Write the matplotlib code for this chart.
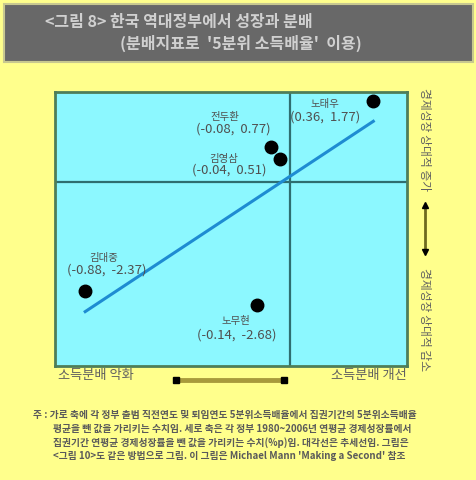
import numpy as np
import matplotlib
matplotlib.use("Agg")
import matplotlib.pyplot as plt
from matplotlib.patches import Rectangle

plt.rcParams['font.family'] = ['Noto Sans CJK KR', 'DejaVu Sans']

# ---- data ----
names = ["노태우", "전두환", "김영삼", "김대중", "노무현"]
dist_x = [0.36, -0.08, -0.04, -0.88, -0.14]
growth_y = [1.77, 0.77, 0.51, -2.37, -2.68]
label_text = ["(0.36,  1.77)", "(-0.08,  0.77)", "(-0.04,  0.51)", "(-0.88,  -2.37)", "(-0.14,  -2.68)"]
title1 = "<그림 8> 한국 역대정부에서 성장과 분배"
title2 = "(분배지표로  '5분위 소득배율'  이용)"
x_left_label = "소득분배 악화"
x_right_label = "소득분배 개선"
y_top_label = "경제성장 상대적 증가"
y_bottom_label = "경제성장 상대적 감소"
notes = [
    "주 : 가로 축에 각 정부 출범 직전연도 및 퇴임연도 5분위소득배율에서 집권기간의 5분위소득배율",
    "평균을 뺀 값을 가리키는 수치임. 세로 축은 각 정부 1980~2006년 연평균 경제성장률에서",
    "집권기간 연평균 경제성장률을 뺀 값을 가리키는 수치(%p)임. 대각선은 추세선임. 그림은",
    "<그림 10>도 같은 방법으로 그림. 이 그림은 Michael Mann 'Making a Second' 참조",
]

W, H = 477, 480
fig = plt.figure(figsize=(W / 100, H / 100), dpi=100)
fig.patch.set_facecolor('#FFFF8C')

def fx(x):
    return x / W

def fy(y):
    return 1 - y / H

# title box
fig.patches.append(Rectangle((fx(4), fy(62)), fx(469), 58 / H, transform=fig.transFigure,
                             facecolor='#686868', edgecolor='#C8C890', lw=1.5, zorder=0))
fig.text(fx(45), fy(22), title1, color='#D0D0D0', fontsize=11.5, fontweight='bold',
         ha='left', va='center')
fig.text(fx(120), fy(43), title2, color='#D0D0D0', fontsize=11.5, fontweight='bold',
         ha='left', va='center')

# plot area
ax = fig.add_axes([fx(55), fy(366), fx(407 - 55), (366 - 92) / H])
ax.set_facecolor('#8CF8FF')
for s in ax.spines.values():
    s.set_color('#4E7E58')
    s.set_linewidth(2)
ax.set_xlim(-1.01, 0.505)
ax.set_ylim(-4.0, 1.96)
ax.set_xticks([])
ax.set_yticks([])
ax.axvline(0, color='#2E6E70', lw=1.6, zorder=1)
ax.axhline(0, color='#2E6E70', lw=1.6, zorder=1)

# trend line
xa = np.array(dist_x)
ya = np.array(growth_y)
k, b = np.polyfit(xa, ya, 1)
xs = np.array([xa.min(), xa.max()])
ax.plot(xs, k * xs + b, color='#1E8CD2', lw=2.2, zorder=2)

ax.plot(dist_x, growth_y, 'o', color='black', markersize=9, zorder=3)

# label offsets in pixels (dx, dy with y downward) for name and coordinates
name_off = [(-48, 3), (-46, -30), (-57, 0), (19, -33), (-21, 16)]
coord_off = [(-48, 16), (-38, -18), (-51, 11), (22, -21), (-20, 30)]
pt = 72 / 100
for n, t, x, y, (ndx, ndy), (cdx, cdy) in zip(names, label_text, dist_x, growth_y, name_off, coord_off):
    ax.annotate(n, (x, y), xytext=(ndx * pt, -ndy * pt), textcoords='offset points',
                ha='center', va='center', fontsize=7.5, color='#505050', zorder=4)
    ax.annotate(t, (x, y), xytext=(cdx * pt, -cdy * pt), textcoords='offset points',
                ha='center', va='center', fontsize=9.5, color='#505050', zorder=4)

# bottom axis labels and arrow
fig.text(fx(58), fy(376), x_left_label, fontsize=9.5, color='#606060', ha='left', va='center')
fig.text(fx(407), fy(376), x_right_label, fontsize=9.5, color='#606060', ha='right', va='center')
fig.add_artist(plt.Line2D([fx(175), fx(285)], [fy(380), fy(380)], transform=fig.transFigure,
                          color='#A89A3C', lw=3.5))
fig.add_artist(plt.Line2D([fx(176), fx(284)], [fy(380), fy(380)], transform=fig.transFigure,
                          color='black', lw=0, marker='s', markersize=4))

# right axis labels and arrow
fig.text(fx(425), fy(140), y_top_label, fontsize=8.5, color='#606060', rotation=270,
         ha='center', va='center')
fig.text(fx(425), fy(320), y_bottom_label, fontsize=8.5, color='#606060', rotation=270,
         ha='center', va='center')
fig.add_artist(plt.Line2D([fx(425), fx(425)], [fy(205), fy(252)], transform=fig.transFigure,
                          color='#6E6A20', lw=2))
fig.add_artist(plt.Line2D([fx(425)], [fy(205)], transform=fig.transFigure,
                          color='black', lw=0, marker='^', markersize=5))
fig.add_artist(plt.Line2D([fx(425)], [fy(252)], transform=fig.transFigure,
                          color='black', lw=0, marker='v', markersize=5))

# notes
for i, line in enumerate(notes):
    x0 = 33 if i == 0 else 53
    fig.text(fx(x0), fy(415 + i * 13.7), line, fontsize=7.0, color='#5A5A5A',
             fontweight='bold', ha='left', va='center')

fig.savefig('out.png', dpi=100, facecolor=fig.get_facecolor())
